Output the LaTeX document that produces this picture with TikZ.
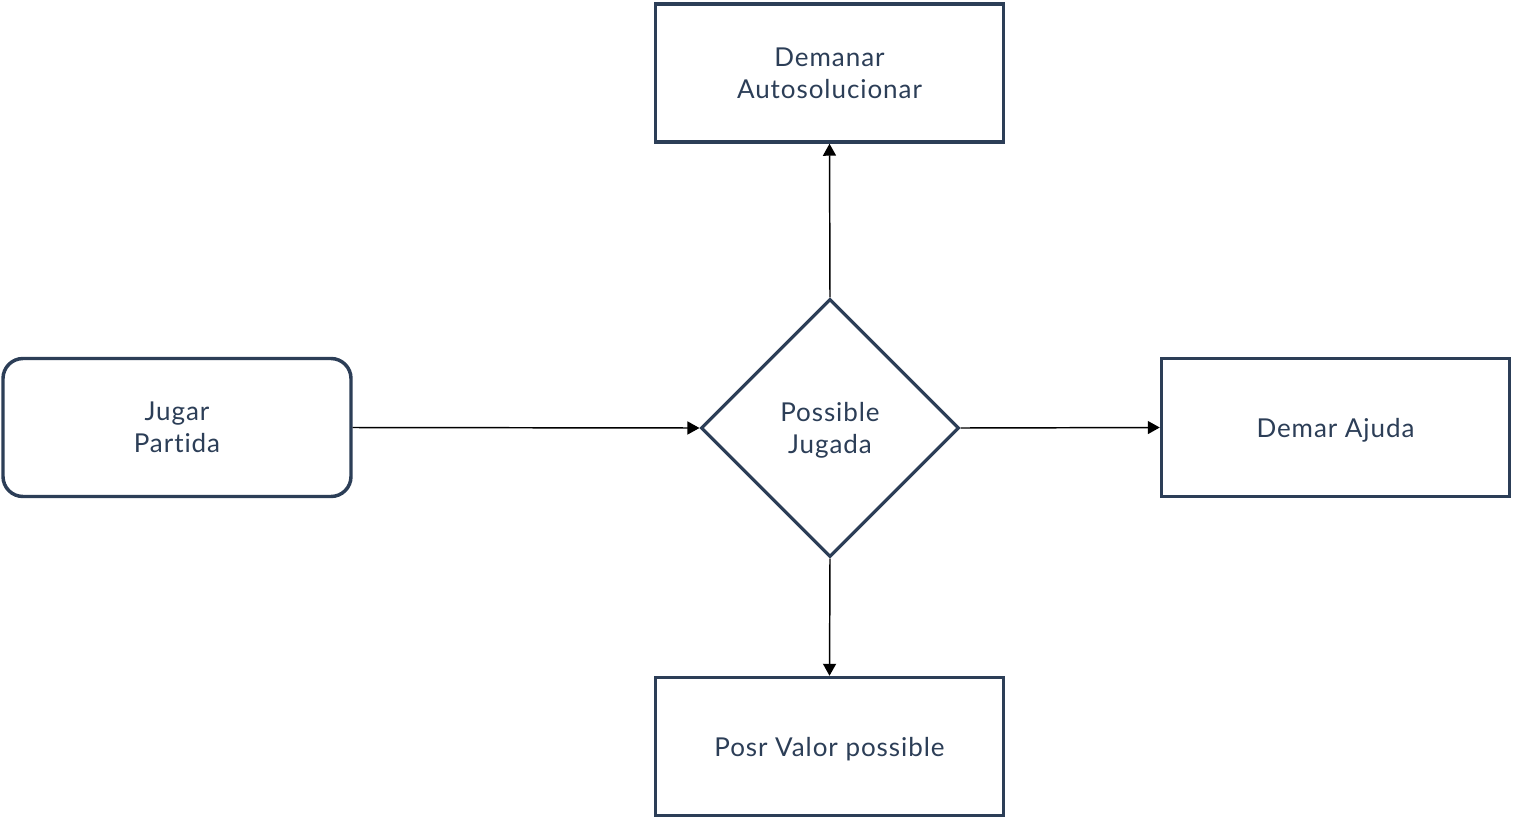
\documentclass[tikz,border=0pt]{standalone}
\usepackage{fontspec}
\setmainfont{Lato}[Ligatures=NoCommon,LetterSpace=3.6]
\usetikzlibrary{shapes.geometric,arrows.meta}
\definecolor{navy}{HTML}{2C3E57}
\begin{document}
\begin{tikzpicture}[x=0.75pt,y=-0.75pt,
  lbl/.style={text=navy,font=\fontsize{19.5}{24}\selectfont,align=center,text depth=-1pt},
  box/.style={draw=navy,line width=2.6pt,fill=white,minimum width=348*0.75pt,minimum height=138*0.75pt,inner sep=0pt,lbl},
  decision/.style={draw=navy,line width=2.3pt,diamond,minimum width=258*0.75pt,minimum height=258*0.75pt,inner sep=0pt,lbl},
  conn/.style={draw=black,line width=1.1pt,-{Triangle[length=12pt*0.75,width=13pt*0.75]}}]
\useasboundingbox (0,0) rectangle (1514,818);
\node[box,rounded corners=15pt] (jp) at (177,427.5) {Jugar\\Partida};
\node[decision] (pj) at (830,428) {Possible\\Jugada};
\node[box] (da) at (829.5,73) {Demanar\\Autosolucionar};
\node[box] (aj) at (1335.5,427.5) {Demar Ajuda};
\node[box] (pv) at (829.5,746.5) {Posr Valor possible};
\draw[conn] (jp.east) -- (pj.west);
\draw[conn] (pj.east) -- (aj.west);
\draw[conn] (pj.north) -- (da.south);
\draw[conn] (pj.south) -- (pv.north);
\end{tikzpicture}
\end{document}
